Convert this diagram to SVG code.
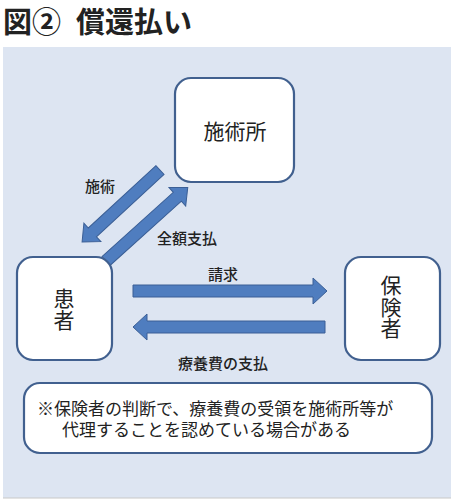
<svg xmlns="http://www.w3.org/2000/svg" width="454" height="499" viewBox="0 0 454 499">
<defs>
<style>
text{font-family:"Noto Sans CJK JP","Noto Sans CJK SC",sans-serif;fill:#222}
.box{fill:#fff;stroke:#41608f;stroke-width:2.2}
.arr{fill:#4f7dbf;stroke:#3b5f96;stroke-width:1}
.lbl{font-size:15px;font-weight:500;text-anchor:middle;dominant-baseline:central}
.node{font-size:21px;text-anchor:middle;dominant-baseline:central}
.vert{font-size:21px;writing-mode:vertical-rl;text-anchor:middle;dominant-baseline:central}
.note{font-size:17px}
</style>
</defs>
<rect x="0" y="0" width="454" height="499" fill="#fff"/>
<rect x="3" y="47" width="448" height="451" fill="#dde5f2"/>
<line x1="3" y1="498" x2="451" y2="498" stroke="#c8c8c8" stroke-width="1"/>
<g id="title">
<text x="3" y="33" style="font-size:29px;font-weight:bold">図②</text>
<text x="76" y="33" style="font-size:29px;font-weight:bold">償還払い</text>
</g>
<g id="connectors">
<path class="arr" transform="translate(160,170) rotate(137.3)" d="M0,-6 L92,-6 L92,-12.5 L106,0 L92,12.5 L92,6 L0,6 Z"/>
<path class="arr" transform="translate(106,261) rotate(-42)" d="M0,-6 L96,-6 L96,-12.5 L110,0 L96,12.5 L96,6 L0,6 Z"/>
<path class="arr" d="M133,285 L313,285 L313,278 L327,291 L313,304 L313,297 L133,297 Z"/>
<path class="arr" d="M325,321 L147,321 L147,314 L133,327 L147,340 L147,333 L325,333 Z"/>
<text class="lbl" x="100" y="185">施術</text>
<text class="lbl" x="187" y="237">全額支払</text>
<text class="lbl" x="223" y="273">請求</text>
<text class="lbl" x="223" y="362">療養費の支払</text>
</g>
<g id="clinic">
<rect class="box" x="175" y="78" width="119" height="104" rx="16"/>
<text class="node" x="235" y="130">施術所</text>
</g>
<g id="patient">
<rect class="box" x="17" y="257" width="95" height="103" rx="16"/>
<text class="vert" x="64" y="310" style="letter-spacing:1px">患者</text>
</g>
<g id="insurer">
<rect class="box" x="345" y="257" width="95" height="103" rx="16"/>
<text class="vert" x="391" y="307" style="letter-spacing:0.5px">保険者</text>
</g>
<g id="note">
<rect class="box" x="24" y="383" width="408" height="70" rx="16"/>
<text class="note" x="37" y="415">※保険者の判断で、療養費の受領を施術所等が</text>
<text class="note" x="62" y="436">代理することを認めている場合がある</text>
</g>
</svg>
